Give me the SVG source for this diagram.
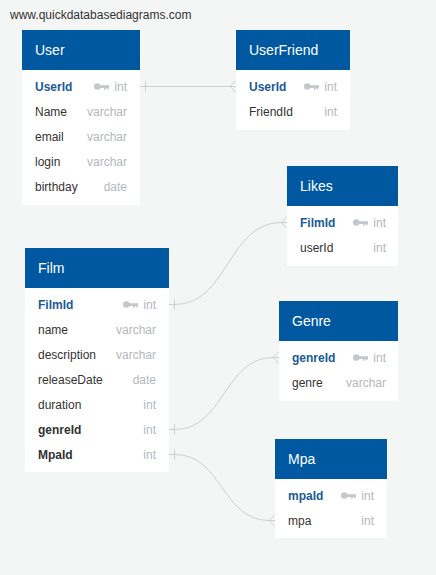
<svg xmlns="http://www.w3.org/2000/svg" width="436" height="575" viewBox="0 0 436 575">
<defs>
<style>
text{font-family:"Liberation Sans",Arial,sans-serif;}
.hdr{fill:#0059a0;}
.body{fill:#ffffff;}
.title{fill:#ffffff;font-size:14px;}
.pk{fill:#1a5a96;font-size:12px;font-weight:bold;}
.fk{fill:#333333;font-size:12px;font-weight:bold;}
.fld{fill:#333333;font-size:12px;}
.typ{fill:#b4b8bc;font-size:12px;text-anchor:end;}
.wm{fill:#333333;font-size:12px;}
.conn{fill:none;stroke:#cbcfcf;stroke-width:1;}
.key{fill:#c4c8cc;}
</style>
<g id="keyicon">
<circle cx="3.3" cy="3" r="3.3"/>
<rect x="5" y="1.7" width="10" height="2.8"/>
<rect x="10" y="3.5" width="1.8" height="2.7"/>
<rect x="12.8" y="3.5" width="1.8" height="2.2"/>
</g>
</defs>
<rect x="0" y="0" width="436" height="575" fill="#f4f6f5"/>
<text class="wm" x="10" y="19">www.quickdatabasediagrams.com</text>

<g id="connectors">
<path class="conn" d="M140 86.5 H236"/>
<path class="conn" d="M145.5 81.5 V91.5"/>
<path class="conn" d="M236 80.5 L230 86.5 L236 92.5"/>

<path class="conn" d="M169 304.5 H175 C228 304.5 228 222.5 281 222.5 H287"/>
<path class="conn" d="M174.5 299.5 V309.5"/>
<path class="conn" d="M287 216.5 L281 222.5 L287 228.5"/>

<path class="conn" d="M169 429.5 H175 C224 429.5 224 357.5 273 357.5 H279"/>
<path class="conn" d="M174.5 424.5 V434.5"/>
<path class="conn" d="M279 351.5 L273 357.5 L279 363.5"/>

<path class="conn" d="M169 454.5 H175 C222 454.5 222 520.5 269 520.5 H275"/>
<path class="conn" d="M174.5 449.5 V459.5"/>
<path class="conn" d="M275 514.5 L269 520.5 L275 526.5"/>
</g>

<g id="User">
<rect class="body" x="22" y="30" width="118" height="175"/>
<rect class="hdr" x="22" y="30" width="118" height="40"/>
<text class="title" x="35" y="55">User</text>
<text class="pk" x="35" y="91">UserId</text>
<use href="#keyicon" class="key" x="94" y="83.5"/>
<text class="typ" x="127" y="91">int</text>
<text class="fld" x="35" y="116">Name</text><text class="typ" x="127" y="116">varchar</text>
<text class="fld" x="35" y="141">email</text><text class="typ" x="127" y="141">varchar</text>
<text class="fld" x="35" y="166">login</text><text class="typ" x="127" y="166">varchar</text>
<text class="fld" x="35" y="191">birthday</text><text class="typ" x="127" y="191">date</text>
</g>

<g id="UserFriend">
<rect class="body" x="236" y="30" width="114" height="100"/>
<rect class="hdr" x="236" y="30" width="114" height="40"/>
<text class="title" x="249" y="55">UserFriend</text>
<text class="pk" x="249" y="91">UserId</text>
<use href="#keyicon" class="key" x="304" y="83.5"/>
<text class="typ" x="337" y="91">int</text>
<text class="fld" x="249" y="116">FriendId</text><text class="typ" x="337" y="116">int</text>
</g>

<g id="Likes">
<rect class="body" x="287" y="166" width="111" height="100"/>
<rect class="hdr" x="287" y="166" width="111" height="40"/>
<text class="title" x="300" y="191">Likes</text>
<text class="pk" x="300" y="227">FilmId</text>
<use href="#keyicon" class="key" x="353" y="219.5"/>
<text class="typ" x="386" y="227">int</text>
<text class="fld" x="300" y="252">userId</text><text class="typ" x="386" y="252">int</text>
</g>

<g id="Film">
<rect class="body" x="25" y="248" width="144" height="224"/>
<rect class="hdr" x="25" y="248" width="144" height="40"/>
<text class="title" x="38" y="273">Film</text>
<text class="pk" x="38" y="309">FilmId</text>
<use href="#keyicon" class="key" x="123" y="301.5"/>
<text class="typ" x="156" y="309">int</text>
<text class="fld" x="38" y="334">name</text><text class="typ" x="156" y="334">varchar</text>
<text class="fld" x="38" y="359">description</text><text class="typ" x="156" y="359">varchar</text>
<text class="fld" x="38" y="384">releaseDate</text><text class="typ" x="156" y="384">date</text>
<text class="fld" x="38" y="409">duration</text><text class="typ" x="156" y="409">int</text>
<text class="fk" x="38" y="434">genreId</text><text class="typ" x="156" y="434">int</text>
<text class="fk" x="38" y="459">MpaId</text><text class="typ" x="156" y="459">int</text>
</g>

<g id="Genre">
<rect class="body" x="279" y="301" width="119" height="100"/>
<rect class="hdr" x="279" y="301" width="119" height="40"/>
<text class="title" x="292" y="326">Genre</text>
<text class="pk" x="292" y="362">genreId</text>
<use href="#keyicon" class="key" x="353" y="354.5"/>
<text class="typ" x="386" y="362">int</text>
<text class="fld" x="292" y="387">genre</text><text class="typ" x="386" y="387">varchar</text>
</g>

<g id="Mpa">
<rect class="body" x="275" y="439" width="112" height="99"/>
<rect class="hdr" x="275" y="439" width="112" height="40"/>
<text class="title" x="288" y="464">Mpa</text>
<text class="pk" x="288" y="500">mpaId</text>
<use href="#keyicon" class="key" x="341" y="492.5"/>
<text class="typ" x="374" y="500">int</text>
<text class="fld" x="288" y="525">mpa</text><text class="typ" x="374" y="525">int</text>
</g>
</svg>
